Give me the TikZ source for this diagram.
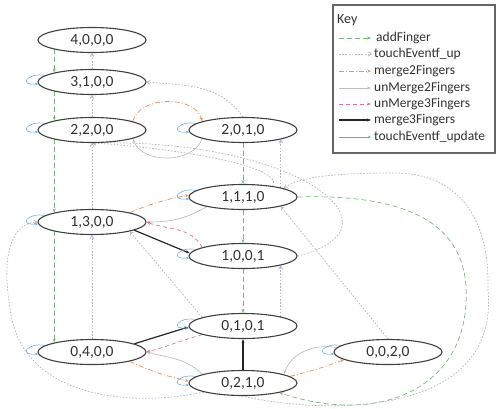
\documentclass[tikz,border=0pt]{standalone}
\usepackage{fontspec}
\setmainfont{Carlito}
\usetikzlibrary{arrows.meta,calc,shapes.geometric}
\pgfdeclarelayer{background}
\pgfsetlayers{background,main}
\definecolor{addcol}{RGB}{120,185,120}
\definecolor{tupcol}{RGB}{178,178,200}
\definecolor{mtwocol}{RGB}{235,145,95}
\definecolor{umtwocol}{RGB}{190,190,190}
\definecolor{umthreecol}{RGB}{225,115,145}
\definecolor{updcol}{RGB}{95,170,225}
\definecolor{nodecol}{RGB}{64,64,64}
\definecolor{txtcol}{RGB}{50,50,50}
\newcommand\sloop[1]{\draw[upd] (#1.172) .. controls +(-18,3) and +(-20,-2) .. (#1.182);}
\begin{document}
\begin{tikzpicture}[x=1pt,y=1pt,
  st/.style={ellipse,draw=nodecol,line width=1.1pt,fill=white,minimum width=108pt,minimum height=25pt,inner sep=0pt,font=\fontsize{15.5}{15.5}\selectfont,text=txtcol},
  tipa/.style={-{Stealth[length=4pt,width=3pt]}},
  addf/.style={draw=addcol,line width=0.7pt,dash pattern=on 5pt off 3pt,tipa},
  tup/.style={draw=tupcol,line width=0.7pt,dash pattern=on 1.6pt off 1.6pt,-{Straight Barb[length=3pt,width=4pt]}},
  mtwo/.style={draw=mtwocol,line width=0.7pt,dash pattern=on 5pt off 2pt on 1pt off 2pt,tipa},
  umtwo/.style={draw=umtwocol,line width=0.7pt,tipa},
  umthree/.style={draw=umthreecol,line width=0.7pt,dash pattern=on 4pt off 3pt,tipa},
  mthree/.style={draw=black!85,line width=1.2pt,tipa},
  upd/.style={draw=updcol,line width=0.5pt,-{Stealth[length=3pt,width=2.5pt]}},
  kt/.style={anchor=west,font=\fontsize{13.5}{14}\selectfont,text=txtcol,inner sep=0pt}
]
\useasboundingbox (0,0) rectangle (497,408);
% states
\node[st] (n4000) at (92,368) {4,0,0,0};
\node[st] (n3100) at (92,326) {3,1,0,0};
\node[st] (n2200) at (92,278) {2,2,0,0};
\node[st] (n2010) at (243,278) {2,0,1,0};
\node[st] (n1110) at (243,211) {1,1,1,0};
\node[st] (n1300) at (92,186) {1,3,0,0};
\node[st] (n1001) at (243,152) {1,0,0,1};
\node[st] (n0101) at (243,82) {0,1,0,1};
\node[st] (n0400) at (92,56) {0,4,0,0};
\node[st] (n0210) at (243,25) {0,2,1,0};
\node[st] (n0020) at (388,56) {0,0,2,0};
% key
\node[draw=nodecol!80,line width=1.1pt,minimum width=162pt,minimum height=148pt,inner sep=0pt] (key) at (414,329) {};
\node[kt,font=\fontsize{14}{14}\selectfont] (keyt) at (337,388) {Key};
\node[kt] (k1) at (376,370) {addFinger};
\node[kt] (k2) at (374,354) {touchEventf\_up};
\node[kt] (k3) at (374,337) {merge2Fingers};
\node[kt] (k4) at (374,320) {unMerge2Fingers};
\node[kt] (k5) at (374,304) {unMerge3Fingers};
\node[kt] (k6) at (374,288) {merge3Fingers};
\node[kt] (k7) at (374,271) {touchEventf\_update};
\draw[addf] ($(k1.west)+(-37,0)$) -- ($(k1.west)+(-5,0)$);
\draw[tup] ($(k2.west)+(-35,0)$) -- ($(k2.west)+(-2,0)$);
\draw[mtwo] ($(k3.west)+(-35,0)$) -- ($(k3.west)+(-3,0)$);
\draw[umtwo] ($(k4.west)+(-35,0)$) -- ($(k4.west)+(-3,0)$);
\draw[umthree] ($(k5.west)+(-35,0)$) -- ($(k5.west)+(-3,0)$);
\draw[mthree] ($(k6.west)+(-35,0)$) -- ($(k6.west)+(-3,0)$);
\draw[upd] ($(k7.west)+(-35,0)$) -- ($(k7.west)+(-3,0)$);
\begin{pgfonlayer}{background}
% addFinger
\draw[addf] (n4000.194) -- (n3100.166);
\draw[addf] (n3100.194) -- (n2200.166);
\draw[addf] (n2200.194) -- (n1300.166);
\draw[addf] (n1300.194) -- (n0400.166);
\draw[addf] (n2010.south) -- (n1110.north);
\draw[addf] (n1110.south) -- (n1001.north);
\draw[addf] (n1001.south) -- (n0101.north);
\draw[addf] (n1110.east) .. controls (430,215) and (470,170) .. (466,105) .. controls (462,20) and (380,-18) .. (n0210.-15);
% touchEventf_up
\draw[tup] (n3100.north) -- (n4000.south);
\draw[tup] (n2200.north) -- (n3100.south);
\draw[tup] (n1300.north) -- (n2200.south);
\draw[tup] (n0400.north) -- (n1300.south);
\draw[tup] (n1110.14) -- (n2010.-14);
\draw[tup] (n0101.14) -- (n1001.-14);
\draw[tup] (n2010.north) to[out=125,in=-5] (n3100.east);
\draw[tup] (n0020.north) -- (n1110.-14);
\draw[tup] (n0101.168) -- (n1300.-14);
\draw[tup] (n0210.193) .. controls (130,0) and (20,10) .. (10,100) .. controls (0,160) and (15,185) .. (n1300.west);
\draw[tup] (n0210.265) .. controls (330,-8) and (500,-8) .. (488,118) .. controls (490,200) and (450,235) .. (395,235) .. controls (340,235) and (300,232) .. (n1110.12);
\draw[tup] (n1110.20) .. controls (285,245) and (150,262) .. (n2200.south);
\draw[tup] (n1001.east) .. controls (410,180) and (300,270) .. (n2200.south);
% merge2Fingers
\draw[mtwo] (n2200.12) to[out=75,in=105] (n2010.168);
\draw[mtwo] (n1300.14) to[bend left=6] (n1110.178);
\draw[mtwo] (n0400.-14) to[bend right=6] (n0210.178);
\draw[mtwo] (n0210.8) to[bend right=3] (n0020.190);
% unMerge2Fingers
\draw[umtwo] (n2010.192) to[out=-110,in=-70] (n2200.-12);
\draw[umtwo] (n1110.195) to[out=-150,in=0] (n1300.east);
\draw[umtwo] (n0210.168) to[out=135,in=-15] (n0400.east);
\draw[umtwo] (n0020.175) to[out=170,in=70] (n0210.12);
% unMerge3Fingers
\draw[umthree] (n1001.168) to[out=120,in=-20] (n1300.east);
\draw[umthree] (n0101.192) to[out=-165,in=15] (n0400.east);
% merge3Fingers
\draw[mthree] (n1300.-11) -- (n1001.177);
\draw[mthree] (n0400.11) -- (n0101.181);
\draw[mthree] (n0210.north) -- (n0101.south);
% touchEventf_update loops
\sloop{n3100}
\sloop{n2200}
\sloop{n2010}
\sloop{n1110}
\sloop{n1300}
\sloop{n1001}
\sloop{n0101}
\sloop{n0400}
\sloop{n0210}
\sloop{n0020}
\end{pgfonlayer}
\end{tikzpicture}
\end{document}
